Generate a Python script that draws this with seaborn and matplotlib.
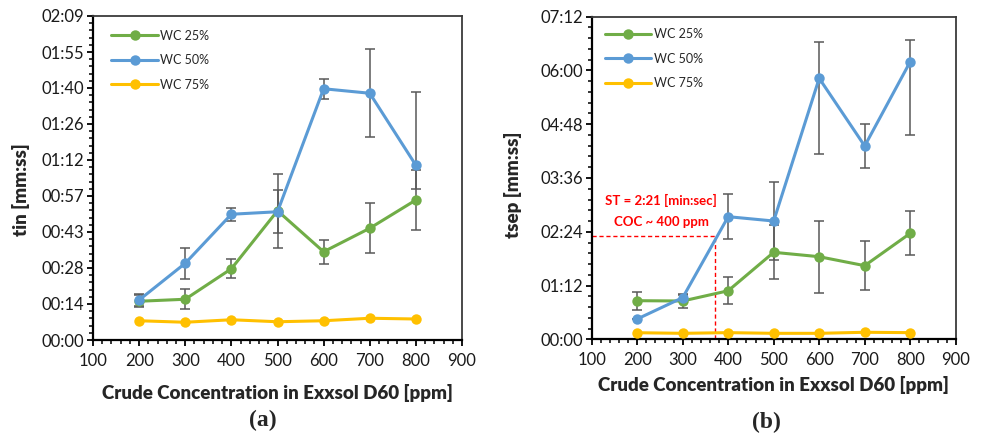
import numpy as np
import pandas as pd
import matplotlib
matplotlib.use("Agg")
import matplotlib.pyplot as plt
from matplotlib.ticker import FuncFormatter, MultipleLocator, AutoMinorLocator
import seaborn as sns

# ---------------- data ----------------
ppm = [200, 300, 400, 500, 600, 700, 800]
series = ["WC 25%", "WC 50%", "WC 75%"]

# (a) tin, seconds
tin_wc25 = [15.5, 16.3, 28.5, 51.7, 35.3, 44.7, 56.0]
tin_wc50 = [16.0, 30.7, 50.3, 51.3, 100.5, 98.7, 69.9]
tin_wc75 = [7.7, 7.1, 8.1, 7.3, 7.7, 8.7, 8.4]
tin_wc25_err = [2.4, 4.0, 3.8, 14.7, 4.9, 9.9, 12.0]
tin_wc50_err_lo = [2.4, 6.2, 2.5, 8.5, 4.0, 17.7, 9.6]
tin_wc50_err_hi = [2.4, 6.2, 2.5, 8.5, 4.0, 17.7, 29.1]

# (b) tsep, seconds
tsep_wc25 = [51.7, 51.3, 65.0, 116.5, 110.6, 98.6, 141.9]
tsep_wc50 = [27.2, 55.8, 164.2, 158.4, 349.5, 258.9, 371.7]
tsep_wc75 = [8.8, 8.0, 8.9, 8.0, 8.0, 9.4, 8.9]
tsep_wc25_err = [12.3, 10.0, 17.8, 36.0, 48.0, 33.0, 29.5]
tsep_wc50_err_lo = [0.0, 3.0, 30.0, 52.0, 102.0, 29.5, 98.0]
tsep_wc50_err_hi = [0.0, 3.0, 30.0, 52.0, 48.0, 29.5, 29.0]

ST_SECONDS = 139
COC_PPM = 370
ST_TEXT = "ST = 2:21 [min:sec]"
COC_TEXT = "COC ~ 400 ppm"

colors = {"WC 25%": "#70AD47", "WC 50%": "#5B9BD5", "WC 75%": "#FFC000"}
ERR_COLOR = "#595959"

sns.set_theme(style="white")
plt.rcParams["font.family"] = ["Lato", "DejaVu Sans"]


def mmss(v, pos=None):
    s = int(np.floor(round(v, 6)))
    return f"{s // 60:02d}:{s % 60:02d}"


def make_df(a, b, c):
    return pd.DataFrame({
        "ppm": ppm * 3,
        "t": list(a) + list(b) + list(c),
        "series": [series[0]] * len(ppm) + [series[1]] * len(ppm) + [series[2]] * len(ppm),
    })


fig = plt.figure(figsize=(9.82, 4.36), dpi=100)
axA = fig.add_axes([93 / 982, 1 - 340 / 436, 369 / 982, 324 / 436])
axB = fig.add_axes([591.7 / 982, 1 - 339.3 / 436, 364 / 982, 322.6 / 436])


def draw(ax, df, err25, err50lo, err50hi, ymax, ystep, ylabel):
    d25 = df[df.series == "WC 25%"]
    d50 = df[df.series == "WC 50%"]
    ax.errorbar(d25.ppm, d25.t, yerr=err25, fmt="none", ecolor=ERR_COLOR,
                elinewidth=1.1, capsize=3.5, capthick=1.1, zorder=1)
    ax.errorbar(d50.ppm, d50.t, yerr=[err50lo, err50hi], fmt="none", ecolor=ERR_COLOR,
                elinewidth=1.1, capsize=3.5, capthick=1.1, zorder=1)
    sns.lineplot(data=df, x="ppm", y="t", hue="series", hue_order=series,
                 palette=colors, marker="o", markersize=7.5, markeredgewidth=0,
                 linewidth=2.2, ax=ax, zorder=3)
    ax.set_xlim(100, 900)
    ax.set_ylim(0, ymax)
    ax.xaxis.set_major_locator(MultipleLocator(100))
    ax.xaxis.set_minor_locator(AutoMinorLocator(5))
    ax.yaxis.set_major_locator(MultipleLocator(ystep))
    ax.yaxis.set_minor_locator(AutoMinorLocator(5))
    ax.yaxis.set_major_formatter(FuncFormatter(mmss))
    ax.tick_params(axis="both", which="major", direction="out", length=4.5, width=1.3,
                   labelsize=12, color="black", labelcolor="#1a1a1a",
                   left=True, bottom=True, pad=2)
    ax.tick_params(axis="x", which="major", pad=5)
    ax.tick_params(axis="both", which="minor", direction="out", length=3, width=1.1,
                   color="black", left=True, bottom=True)
    for side in ["left", "bottom"]:
        ax.spines[side].set_color("black")
        ax.spines[side].set_linewidth(1.6)
    for side in ["top", "right"]:
        ax.spines[side].set_color("#3a3a3a")
        ax.spines[side].set_linewidth(1.3)
    ax.set_xlabel("Crude Concentration in Exxsol D60 [ppm]", fontsize=13.5, fontweight="heavy")
    ax.set_ylabel(ylabel, fontsize=13.5, fontweight="heavy")
    ax.grid(False)


dfA = make_df(tin_wc25, tin_wc50, tin_wc75)
draw(axA, dfA, tin_wc25_err, tin_wc50_err_lo, tin_wc50_err_hi, 129.6, 14.4, "tin [mm:ss]")
dfB = make_df(tsep_wc25, tsep_wc50, tsep_wc75)
draw(axB, dfB, tsep_wc25_err, tsep_wc50_err_lo, tsep_wc50_err_hi, 432, 72, "tsep [mm:ss]")

axA.xaxis.set_label_coords(0.5, -0.136)
axA.yaxis.set_label_coords(-0.172, 0.463)
axB.xaxis.set_label_coords(0.5, -0.113)
axB.yaxis.set_label_coords(-0.192, 0.478)

for ax, anchor in [(axA, (0.05, 0.958)), (axB, (0.036, 0.964))]:
    h, l = ax.get_legend_handles_labels()
    ax.legend(h, l, loc="upper left", bbox_to_anchor=anchor, frameon=False,
              fontsize=9, handlelength=3.7, handletextpad=0.2, labelspacing=1.0,
              borderpad=0, borderaxespad=0)

# annotation on (b)
axB.plot([100, COC_PPM], [ST_SECONDS, ST_SECONDS], color="#FF0000", lw=1.0,
         ls=(0, (3, 2)), zorder=2)
axB.plot([COC_PPM, COC_PPM], [0, ST_SECONDS], color="#FF0000", lw=1.0,
         ls=(0, (3, 2)), zorder=2)
axB.text(252, 186.5, ST_TEXT, color="#FF0000", fontsize=9.5, fontweight="bold",
         ha="center", va="center")
axB.text(254, 157.5, COC_TEXT, color="#FF0000", fontsize=9.5, fontweight="bold",
         ha="center", va="center")

fig.text(263 / 982, 1 - 420 / 436, "(a)", family=["Liberation Serif"], fontweight="bold",
         fontsize=17, ha="center", va="center")
fig.text(766.7 / 982, 1 - 422 / 436, "(b)", family=["Liberation Serif"], fontweight="bold",
         fontsize=17, ha="center", va="center")

fig.savefig("out.png", dpi=100)
